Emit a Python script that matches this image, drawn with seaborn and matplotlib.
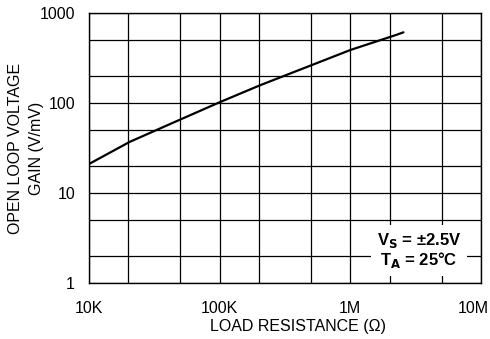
import matplotlib
matplotlib.use("Agg")
import matplotlib.pyplot as plt
import matplotlib.ticker as mticker
import matplotlib.transforms as mtrans
import seaborn as sns
import pandas as pd

resistance = [10e3, 20.5e3, 47e3, 100e3, 205e3, 494e3, 1.0e6, 2.23e6, 2.55e6]
gain = [21, 37, 63, 102, 158, 260, 388, 569, 610]
x_ticks = [1e4, 1e5, 1e6, 1e7]
x_labels = ["10K", "100K", "1M", "10M"]
y_ticks = [1, 10, 100, 1000]
y_labels = ["1", "10", "100", "1000"]

sns.set_theme(style="white")
plt.rcParams['font.family'] = ['Liberation Sans', 'DejaVu Sans']
plt.rcParams['text.color'] = 'black'
plt.rcParams['axes.labelcolor'] = 'black'

df = pd.DataFrame({"R": resistance, "G": gain})

fig = plt.figure(figsize=(4.9, 3.39), dpi=100)
ax = fig.add_axes([89/490, 1-283/339, 392/490, 270/339])
ax.set_xscale("log")
ax.set_yscale("log")
sns.lineplot(data=df, x="R", y="G", ax=ax, color="black", linewidth=1.6)
ax.set_xlim(1e4, 1e7)
ax.set_ylim(1, 1000)

ax.xaxis.set_major_locator(mticker.FixedLocator(x_ticks))
ax.xaxis.set_minor_locator(mticker.LogLocator(base=10, subs=[2, 5]))
ax.yaxis.set_major_locator(mticker.FixedLocator(y_ticks))
ax.yaxis.set_minor_locator(mticker.LogLocator(base=10, subs=[2, 5]))
ax.xaxis.set_minor_formatter(mticker.NullFormatter())
ax.yaxis.set_minor_formatter(mticker.NullFormatter())
ax.set_xticklabels(x_labels)
ax.set_yticklabels(y_labels)
ax.tick_params(axis="both", which="both", length=0, labelsize=11.5, colors="black")
ax.tick_params(axis="x", pad=13)
ax.tick_params(axis="y", pad=10)
ax.grid(True, which="both", color="black", linewidth=0.9)
for s in ax.spines.values():
    s.set_color("black")
    s.set_linewidth(1.0)

# shift last x label to the left to fit
lbls = ax.get_xticklabels()
lbls[-1].set_transform(lbls[-1].get_transform() + mtrans.ScaledTranslation(-8/100, 0, fig.dpi_scale_trans))

ax.set_xlabel("")
ax.set_ylabel("")
fig.text(298/490, 1-327/339, "LOAD RESISTANCE (Ω)", ha="center", va="center", fontsize=11.5)
fig.text(26/490, 1-148/339, "OPEN LOOP VOLTAGE\nGAIN (V/mV)", ha="center", va="center",
         rotation=90, fontsize=11.5, linespacing=1.5, multialignment="center")

ax.text(0.842, 0.12, "V$_\\mathbf{S}$ = ±2.5V\nT$_\\mathbf{A}$ = 25°C", transform=ax.transAxes,
        ha="center", va="center", fontsize=12, fontweight="bold", linespacing=1.05,
        bbox=dict(facecolor="white", edgecolor="none", pad=4))

fig.savefig("out.png", dpi=100)
